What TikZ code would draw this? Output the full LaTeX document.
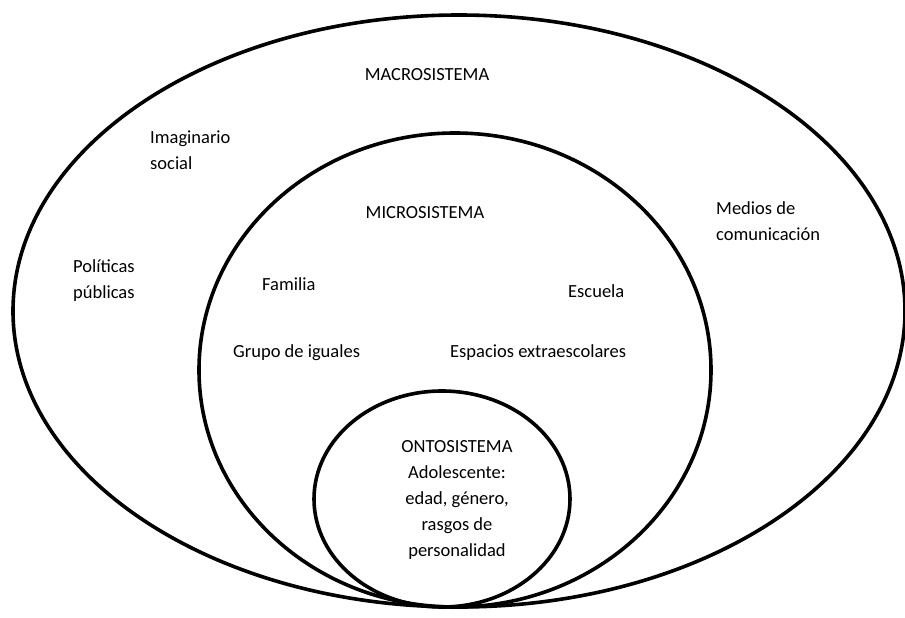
\documentclass[tikz,border=0pt]{standalone}
\usepackage{fontspec}
\setmainfont{Carlito}
\tikzset{
  ring/.style={line width=3.6pt,black},
  lbl/.style={inner sep=0pt,font=\fontsize{18.5}{26}\selectfont},
  lbll/.style={lbl,anchor=west,align=left}
}
\begin{document}
\begin{tikzpicture}[x=1pt,y=-1pt]
		\useasboundingbox (0,0) rectangle (905,618);
		%
		\draw[ring] (459,311) ellipse [x radius=446,y radius=296];  % macro
		\draw[ring] (455,370) ellipse [x radius=256,y radius=237];  % micro
		\draw[ring] (442,499) ellipse [x radius=128,y radius=108];  % onto
		%
		\node[lbl]  (macro) at (427,75) {MACROSISTEMA};
		\node[lbll] (imag) at (150,150) {Imaginario\\social};
		\node[lbl]  (micro) at (425,213) {MICROSISTEMA};
		\node[lbll] (medios) at (716,221) {Medios de\\comunicación};
		\node[lbll] (polit) at (73,281) {Políticas\\públicas};
		\node[lbll] (fam) at (262,284) {Familia};
		\node[lbll] (esc) at (568,291) {Escuela};
		\node[lbll] (grupo) at (233,353) {Grupo de iguales};
		\node[lbll] (espac) at (450,353) {Espacios extraescolares};
		\node[lbl,align=center] (onto) at (457,500)
		{ONTOSISTEMA\\Adolescente:\\edad, género,\\rasgos de\\personalidad};
\end{tikzpicture}
\end{document}
